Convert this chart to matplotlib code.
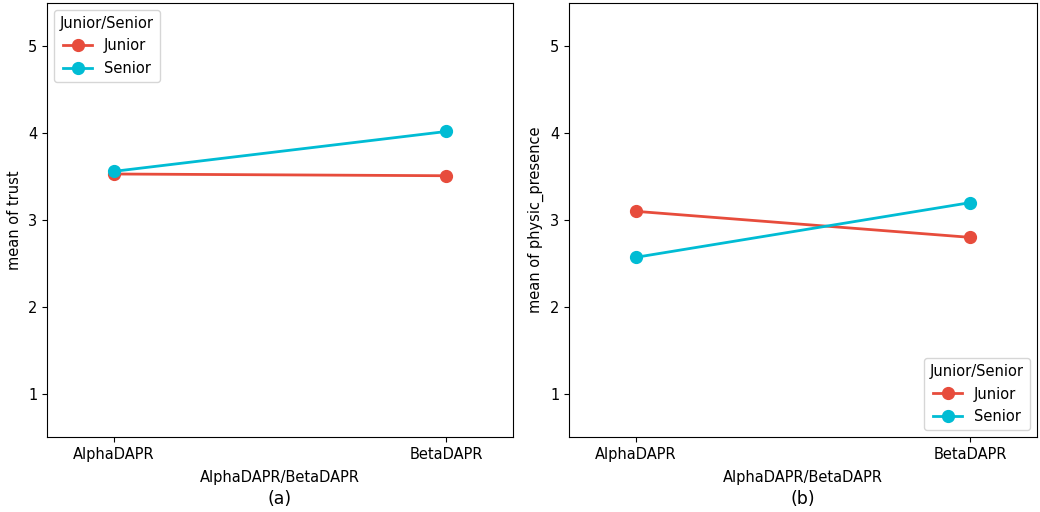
import matplotlib
matplotlib.use("Agg")
import matplotlib.pyplot as plt

categories = ["AlphaDAPR", "BetaDAPR"]
trust_junior = [3.53, 3.51]
trust_senior = [3.56, 4.02]
phys_junior = [3.10, 2.80]
phys_senior = [2.57, 3.20]
red = "#E74C3C"
cyan = "#00BCD4"

plt.rcParams["font.size"] = 10.5
fig = plt.figure(figsize=(10.4, 5.12), dpi=100)
W, H = 1040, 512
bottom = (512 - 437) / H
height = (437 - 3) / H
ax1 = fig.add_axes([47 / W, bottom, 466 / W, height])
ax2 = fig.add_axes([569 / W, bottom, 468 / W, height])

panels = [
    (ax1, trust_junior, trust_senior, "mean of trust", "(a)", "upper left"),
    (ax2, phys_junior, phys_senior, "mean of physic_presence", "(b)", "lower right"),
]
x = list(range(len(categories)))
for ax, j, s, ylabel, tag, loc in panels:
    ax.plot(x, j, color=red, marker="o", markersize=8.5, linewidth=2, label="Junior")
    ax.plot(x, s, color=cyan, marker="o", markersize=8.5, linewidth=2, label="Senior")
    ax.set_xticks(x)
    ax.set_xticklabels(categories)
    ax.set_xlim(-0.2, 1.2)
    ax.set_ylim(0.5, 5.5)
    ax.set_yticks([1, 2, 3, 4, 5])
    ax.set_ylabel(ylabel, fontsize=10.5)
    ax.set_xlabel("AlphaDAPR/BetaDAPR", fontsize=10.5, labelpad=6)
    ax.legend(title="Junior/Senior", loc=loc, fontsize=10.5, title_fontsize=10.5)
    ax.text(0.5, -0.122, tag, transform=ax.transAxes, ha="center", va="top", fontsize=12.5)

fig.savefig("out.png", dpi=100)
